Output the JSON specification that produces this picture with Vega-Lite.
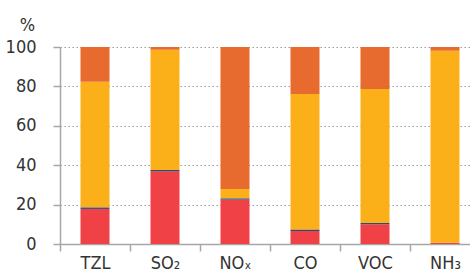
{
  "$schema": "https://vega.github.io/schema/vega-lite/v6.json",
  "autosize": "none",
  "padding": {"left": 60, "top": 47, "right": 0, "bottom": 32},
  "width": 420,
  "height": 197,
  "background": "white",
  "config": {
    "view": {"stroke": null},
    "font": "DejaVu Sans Condensed, sans-serif"
  },
  "data": {
    "values": [
      {"cat": "TZL", "seg": "s1", "o": 1, "v": 17.8},
      {"cat": "TZL", "seg": "s2", "o": 2, "v": 0.8},
      {"cat": "TZL", "seg": "s3", "o": 3, "v": 63.7},
      {"cat": "TZL", "seg": "s4", "o": 4, "v": 17.7},
      {"cat": "SO₂", "seg": "s1", "o": 1, "v": 36.9},
      {"cat": "SO₂", "seg": "s2", "o": 2, "v": 0.7},
      {"cat": "SO₂", "seg": "s3", "o": 3, "v": 61.0},
      {"cat": "SO₂", "seg": "s4", "o": 4, "v": 1.4},
      {"cat": "NOₓ", "seg": "s1", "o": 1, "v": 22.5},
      {"cat": "NOₓ", "seg": "s2", "o": 2, "v": 0.7},
      {"cat": "NOₓ", "seg": "s3", "o": 3, "v": 4.7},
      {"cat": "NOₓ", "seg": "s4", "o": 4, "v": 72.1},
      {"cat": "CO", "seg": "s1", "o": 1, "v": 6.6},
      {"cat": "CO", "seg": "s2", "o": 2, "v": 0.8},
      {"cat": "CO", "seg": "s3", "o": 3, "v": 68.7},
      {"cat": "CO", "seg": "s4", "o": 4, "v": 23.9},
      {"cat": "VOC", "seg": "s1", "o": 1, "v": 10.0},
      {"cat": "VOC", "seg": "s2", "o": 2, "v": 0.7},
      {"cat": "VOC", "seg": "s3", "o": 3, "v": 68.0},
      {"cat": "VOC", "seg": "s4", "o": 4, "v": 21.3},
      {"cat": "NH₃", "seg": "s1", "o": 1, "v": 0.5},
      {"cat": "NH₃", "seg": "s2", "o": 2, "v": 0.1},
      {"cat": "NH₃", "seg": "s3", "o": 3, "v": 97.5},
      {"cat": "NH₃", "seg": "s4", "o": 4, "v": 1.9}
    ]
  },
  "mark": {"type": "bar", "size": 29},
  "encoding": {
    "x": {
      "field": "cat",
      "type": "nominal",
      "sort": null,
      "scale": {"paddingInner": 0, "paddingOuter": 0},
      "axis": {
        "title": null,
        "labelAngle": 0,
        "tickBand": "extent",
        "tickSize": 7,
        "tickColor": "#a6a6a6",
        "tickWidth": 1.5,
        "domainColor": "#a6a6a6",
        "domainWidth": 1.5,
        "labelFontSize": 18,
        "labelColor": "#333333",
        "labelPadding": 3,
        "grid": false
      }
    },
    "y": {
      "field": "v",
      "type": "quantitative",
      "stack": "zero",
      "scale": {"domain": [0, 100], "nice": false},
      "axis": {
        "values": [0, 20, 40, 60, 80, 100],
        "title": "%",
        "titleAngle": 0,
        "titleX": -33,
        "titleY": -17,
        "titleAlign": "center",
        "titleBaseline": "alphabetic",
        "titleFontSize": 18,
        "titleFontWeight": "normal",
        "titleColor": "#333333",
        "tickSize": 7,
        "tickColor": "#a6a6a6",
        "tickWidth": 1.5,
        "domainColor": "#a6a6a6",
        "domainWidth": 1.5,
        "labelFontSize": 18,
        "labelColor": "#333333",
        "labelPadding": 17,
        "grid": true,
        "gridColor": "#9a9a9a",
        "gridDash": [1.5, 2.5],
        "gridWidth": 1
      }
    },
    "color": {
      "field": "seg",
      "type": "nominal",
      "scale": {"domain": ["s1", "s2", "s3", "s4"], "range": ["#EF4146", "#2E4A7D", "#FBB01A", "#E76B2E"]},
      "legend": null
    },
    "order": {"field": "o", "type": "quantitative"}
  }
}
